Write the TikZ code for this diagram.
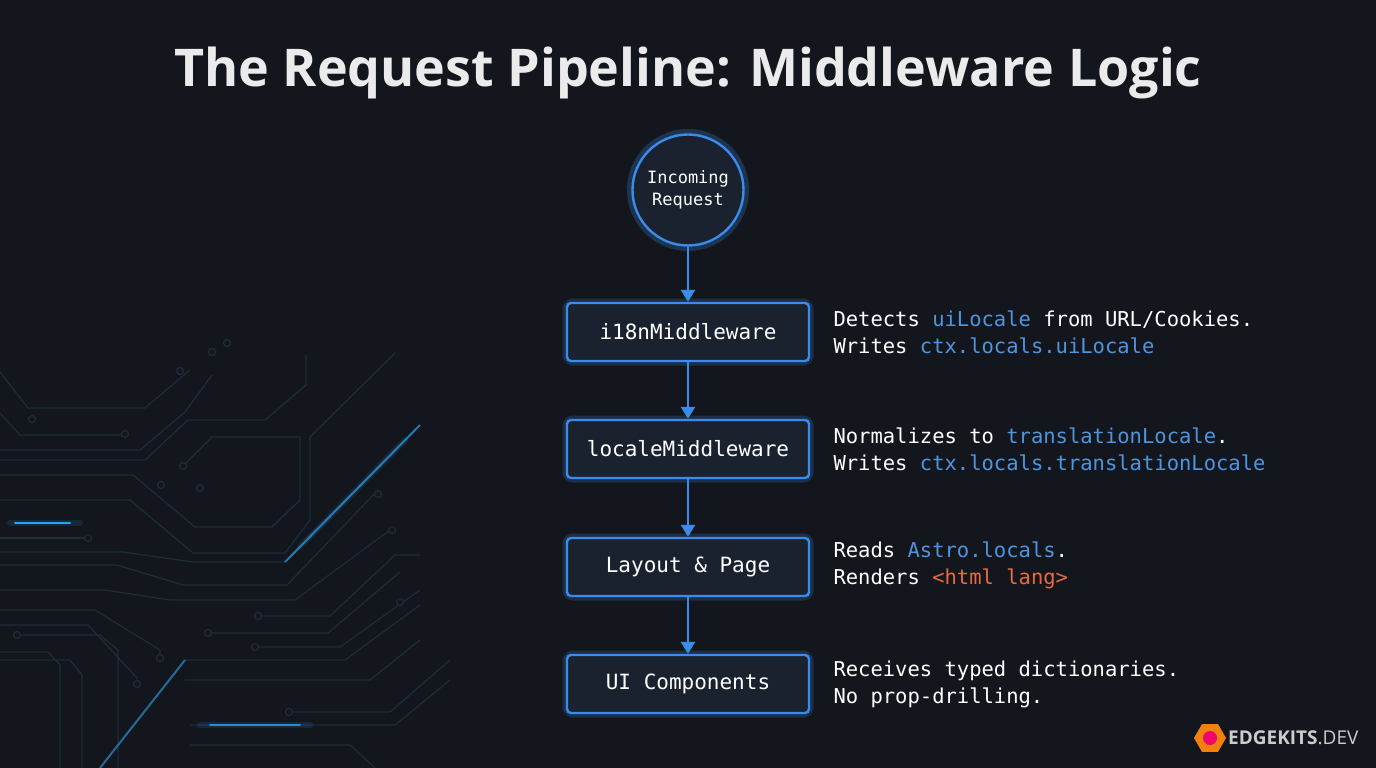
\documentclass[tikz,border=0pt]{standalone}
\usepackage{fontspec}
\setmainfont{DejaVu Sans Mono}
\newfontfamily\titlefont{Open Sans}
\newfontfamily\logofont{Open Sans}
\usetikzlibrary{shapes.geometric,arrows.meta}
\definecolor{bg}{HTML}{13171D}
\definecolor{nodefill}{HTML}{1A2230}
\definecolor{blu}{HTML}{3B8BEB}
\definecolor{hl}{HTML}{4E95E0}
\definecolor{org}{HTML}{E86A3E}
\definecolor{trace}{HTML}{1F2C3A}
\begin{document}
\begin{tikzpicture}[x=1pt,y=-1pt,
  box/.style={draw=blu,line width=2.4pt,fill=nodefill,rounded corners=4pt,minimum width=242pt,minimum height=58pt,text=white,font=\fontsize{21}{25}\selectfont},
  glow/.style={draw=blu!60!bg,line width=9pt,opacity=0.35,rounded corners=6pt},
  desc/.style={anchor=west,text=white,align=left,font=\fontsize{20.5}{27}\selectfont},
  arr/.style={draw=blu,line width=2.6pt,-{Triangle[length=12pt,width=14pt]}},
  tr/.style={draw=trace,line width=1.2pt},
  gl/.style={draw=blu!80!cyan,line width=2pt}]
\fill[bg] (0,0) rectangle (1376,768);
\useasboundingbox (0,0) rectangle (1376,768);
% circuit traces
\foreach \p in {
 {(0,372)--(28,408)--(145,408)--(190,370)},
 {(0,413)--(20,435)--(125,435)},
 {(0,450)--(140,450)--(185,412)--(212,375)},
 {(0,460)--(145,460)--(188,420)--(265,420)--(306,385)--(306,355)},
 {(0,475)--(133,475)--(195,527)--(272,527)--(300,500)--(300,437)--(212,437)--(183,466)},
 {(0,500)--(130,500)--(193,553)--(285,553)--(310,520)--(310,437)--(395,353)},
 {(0,538)--(88,538)},
 {(0,552)--(123,552)--(193,562)--(285,562)},
 {(0,565)--(117,565)--(183,585)--(287,585)--(378,490)},
 {(0,590)--(105,590)--(170,600)--(295,600)--(390,530)},
 {(0,625)--(88,625)--(137,678)--(137,685)},
 {(0,610)--(95,610)--(160,650)--(160,660)},
 {(0,652)--(48,652)--(60,665)--(60,768)},
 {(0,660)--(70,660)--(82,675)--(82,768)},
 {(20,635)--(100,635)--(118,650)--(118,768)},
 {(258,616)--(330,616)--(395,555)--(420,555)},
 {(208,633)--(328,633)--(400,572)},
 {(255,647)--(340,647)--(420,590)},
 {(185,660)--(345,660)--(420,605)},
 {(185,680)--(370,680)--(420,640)},
 {(290,712)--(390,712)--(450,660)},
 {(190,725)--(395,725)--(450,680)},
 {(190,745)--(350,745)--(375,768)}}
 \draw[tr] \p;
\foreach \c in {(227,343),(212,352),(180,371),(32,419),(125,434),(183,466),(161,485),(200,488),(88,538),(17,635),(160,658),(137,684),(258,616),(208,633),(255,647),(289,712),(378,494),(392,530),(400,602)}
 \draw[trace,line width=1.2pt,fill=bg] \c circle (3.5pt);
% glowing traces
\draw[blu,line width=6pt,opacity=0.12,line cap=round] (300,547)--(405,440);
\draw[gl,opacity=0.7] (285,562)--(420,425);
\draw[blu,line width=6pt,opacity=0.15,line cap=round] (10,523)--(80,523);
\draw[gl,line cap=round] (15,523)--(70,523);
\draw[gl,opacity=0.6] (100,768)--(185,660);
\draw[blu,line width=6pt,opacity=0.15,line cap=round] (200,725)--(310,725);
\draw[gl,opacity=0.8,line cap=round] (210,725)--(300,725);
% title
\node[text=white!92!black,font=\titlefont\bfseries\fontsize{52}{60}\selectfont] (title) at (688,73) {The Request Pipeline: Middleware Logic};
% nodes
\draw[blu,line width=10pt,opacity=0.25] (688,190) circle (56pt);
\node[circle,draw=blu,line width=2.4pt,fill=nodefill,minimum size=111pt,text=white,align=center,font=\fontsize{17}{22}\selectfont] (inc) at (688,190) {Incoming\\Request};
\foreach \n/\y/\t in {a/332/i18nMiddleware,b/449/localeMiddleware,c/567/{Layout \& Page},d/684/{UI Components}}{
 \draw[glow] (567,\y-29) rectangle (809,\y+29);
 \node[box] (\n) at (688,\y) {\t};}
\draw[arr] (inc) -- (a);
\draw[arr] (a) -- (b);
\draw[arr] (b) -- (c);
\draw[arr] (c) -- (d);
% descriptions
\node[desc] (da) at (830,332) {Detects \textcolor{hl}{uiLocale} from URL/Cookies.\\Writes \textcolor{hl}{ctx.locals.uiLocale}};
\node[desc] (db) at (830,449) {Normalizes to \textcolor{hl}{translationLocale}.\\Writes \textcolor{hl}{ctx.locals.translationLocale}};
\node[desc] (dc) at (830,565) {Reads \textcolor{hl}{Astro.locals}.\\Renders \textcolor{org}{<html lang>}};
\node[desc] (dd) at (830,684) {Receives typed dictionaries.\\No prop-drilling.};
% logo
\node[regular polygon,regular polygon sides=6,fill=orange!80!brown,minimum size=32pt,inner sep=0pt] (hex) at (1210,738) {};
\fill[magenta!70!red] (hex.center) circle (7pt);
\node[anchor=west,text=white!80!black,font=\logofont\fontsize{19}{22}\selectfont,inner sep=2pt] (logo) at (1226,738) {\textbf{EDGEKITS}.DEV};
\end{tikzpicture}
\end{document}
